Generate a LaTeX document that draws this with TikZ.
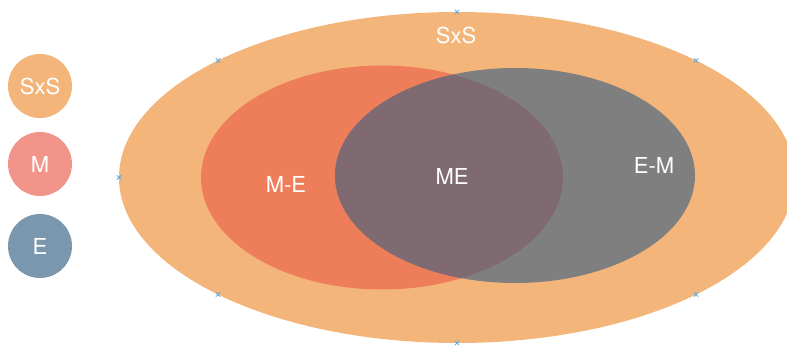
\documentclass[tikz,border=0pt]{standalone}
\usepackage{fontspec}
\setmainfont{TeX Gyre Heros}
\usetikzlibrary{calc}
\definecolor{sxsfill}{HTML}{F4B57B}
\definecolor{mfill}{HTML}{EE7E5A}
\definecolor{efill}{HTML}{7F7F7F}
\definecolor{mefill}{HTML}{7E6A70}
\definecolor{legsxs}{HTML}{F4B57A}
\definecolor{legm}{HTML}{F1958A}
\definecolor{lege}{HTML}{7A97AE}
\definecolor{handle}{HTML}{5AAEE0}
\begin{document}
\begin{tikzpicture}[x=1pt,y=-1pt,
  lbl/.style={text=white,font=\fontsize{22}{26}\selectfont,inner sep=0pt},
  legend/.style={circle,minimum size=64pt,inner sep=0pt,text=white,
    font=\fontsize{22}{26}\selectfont},
  handlemark/.style={handle,line width=0.8pt}]
\useasboundingbox (0,0) rectangle (787,347);

% outer set SxS
\fill[sxsfill] (457,177.5) ellipse [x radius=338pt, y radius=165.5pt];
% M and E
\fill[mfill] (382,177.5) ellipse [x radius=181pt, y radius=112pt];
\fill[efill] (515,175.5) ellipse [x radius=180pt, y radius=107.5pt];
% intersection
\begin{scope}
  \clip (382,177.5) ellipse [x radius=181pt, y radius=112pt];
  \fill[mefill] (515,175.5) ellipse [x radius=180pt, y radius=107.5pt];
\end{scope}

% selection handles of the outer ellipse
\foreach \a in {0,45,...,315}{
  \coordinate (h\a) at ($(457,177.5)+(\a:338 and 165.5)$);
  \draw[handlemark] ($(h\a)+(-2.2,-2.2)$) -- ($(h\a)+(2.2,2.2)$)
                    ($(h\a)+(-2.2,2.2)$) -- ($(h\a)+(2.2,-2.2)$);
}

% region labels
\node[lbl] (tsxs) at (456,35) {SxS};
\node[lbl] (tme)  at (286,184) {M-E};
\node[lbl] (tint) at (452,176) {ME};
\node[lbl] (tem)  at (654,165) {E-M};

% legend
\node[legend,fill=legsxs] (lsxs) at (40,86) {SxS};
\node[legend,fill=legm]   (lm)   at (40,164) {M};
\node[legend,fill=lege]   (le)   at (40,246) {E};
\end{tikzpicture}
\end{document}
